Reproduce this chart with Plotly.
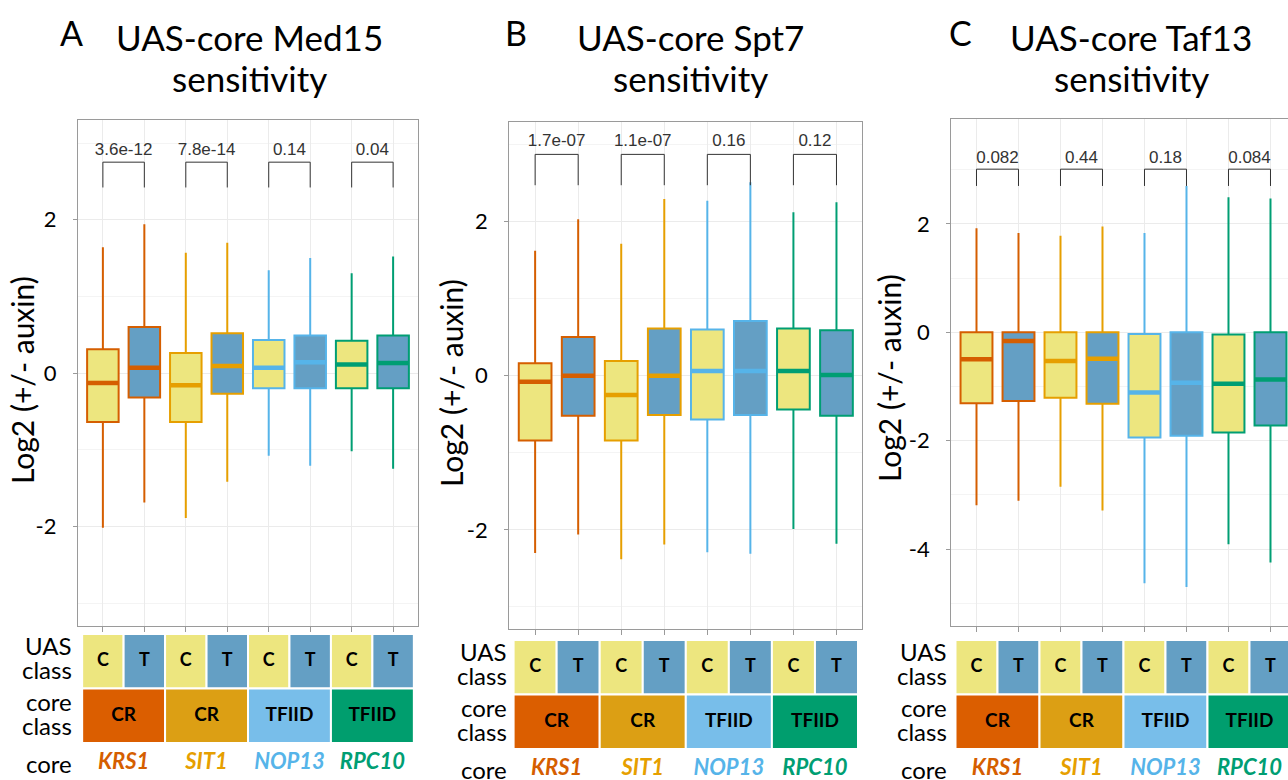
import plotly.graph_objects as go

W, H = 1288, 780

# ---------------- data ----------------
cores = ["KRS1", "SIT1", "NOP13", "RPC10"]
core_classes = ["CR", "CR", "TFIID", "TFIID"]
uas_classes = ["C", "T", "C", "T", "C", "T", "C", "T"]

med15_upper = [1.64, 1.94, 1.57, 1.70, 1.34, 1.50, 1.30, 1.52]
med15_q3 = [0.31, 0.60, 0.26, 0.52, 0.43, 0.49, 0.42, 0.49]
med15_median = [-0.13, 0.07, -0.16, 0.09, 0.07, 0.14, 0.11, 0.13]
med15_q1 = [-0.64, -0.32, -0.64, -0.27, -0.20, -0.20, -0.20, -0.20]
med15_lower = [-2.02, -1.69, -1.89, -1.42, -1.08, -1.21, -1.02, -1.25]
med15_p = ["3.6e-12", "7.8e-14", "0.14", "0.04"]

spt7_upper = [1.62, 2.03, 1.71, 2.29, 2.27, 2.51, 2.12, 2.25]
spt7_q3 = [0.16, 0.50, 0.19, 0.61, 0.60, 0.71, 0.61, 0.59]
spt7_median = [-0.08, 0.00, -0.25, 0.00, 0.06, 0.06, 0.06, 0.01]
spt7_q1 = [-0.84, -0.52, -0.84, -0.51, -0.57, -0.51, -0.44, -0.52]
spt7_lower = [-2.30, -2.06, -2.38, -2.19, -2.29, -2.31, -1.99, -2.18]
spt7_p = ["1.7e-07", "1.1e-07", "0.16", "0.12"]

taf13_upper = [1.92, 1.83, 1.78, 1.95, 1.83, 2.70, 2.49, 2.47]
taf13_q3 = [0.00, 0.00, 0.00, 0.00, -0.03, 0.00, -0.04, 0.00]
taf13_median = [-0.50, -0.16, -0.53, -0.49, -1.11, -0.93, -0.95, -0.87]
taf13_q1 = [-1.31, -1.27, -1.21, -1.32, -1.94, -1.91, -1.85, -1.72]
taf13_lower = [-3.19, -3.11, -2.85, -3.29, -4.63, -4.70, -3.91, -4.25]
taf13_p = ["0.082", "0.44", "0.18", "0.084"]

med15_ticks = [-2, 0, 2]
spt7_ticks = [-2, 0, 2]
taf13_ticks = [-4, -2, 0, 2]

# ---------------- styles ----------------
core_line_colors = ["#D55E00", "#E69F00", "#56B4E9", "#009E73"]
core_tile_colors = ["#DB5E00", "#DC9F14", "#78BEEA", "#009E6E"]
uas_fill = {"C": "#EDE67F", "T": "#649FC4"}
FONT = "Lato"
GRID = "#EBEBEB"
MINOR = "#F4F4F4"
BORDER = "#9A9A9A"


def xd(px):
    return px / W


def yd(px):
    return 1 - px / H


panels = [
    dict(letter="A", title="UAS-core Med15", up=med15_upper, q3=med15_q3, med=med15_median,
         q1=med15_q1, lo=med15_lower, p=med15_p,
         px=(78, 418), py=(120, 626), ty=(634, 743), yr=[-3.3, 3.3], xr=[0.4, 8.6],
         ticks=med15_ticks, br=(2.90, 2.75, 2.42), lab_x=74, ytitle_x=22, ytitle_y=380,
         letter_x=71.5, title_x=249, mirror_y=True),
    dict(letter="B", title="UAS-core Spt7", up=spt7_upper, q3=spt7_q3, med=spt7_median,
         q1=spt7_q1, lo=spt7_lower, p=spt7_p,
         px=(509.3, 862.3), py=(122, 629.3), ty=(640, 749), yr=[-3.29, 3.29], xr=[0.4, 8.6],
         ticks=spt7_ticks, br=(3.03, 2.87, 2.47), lab_x=509, ytitle_x=451, ytitle_y=383,
         letter_x=516, title_x=690, mirror_y=True),
    dict(letter="C", title="UAS-core Taf13", up=taf13_upper, q3=taf13_q3, med=taf13_median,
         q1=taf13_q1, lo=taf13_lower, p=taf13_p,
         px=(951.3, 1288), py=(119.3, 626), ty=(640, 749), yr=[-5.42, 3.93], xr=[0.4, 8.417],
         ticks=taf13_ticks, br=(3.21, 3.01, 2.70), lab_x=949, ytitle_x=889, ytitle_y=378,
         letter_x=960, title_x=1131, mirror_y=False),
]

fig = go.Figure()
annotations = []
shapes = []
positions = list(range(1, len(uas_classes) + 1))
box_w = 0.76
TABLE_LOW = -0.55  # table axis extends below the tiles for the core-name row

for k, P in enumerate(panels):
    n = k + 1
    xa = "x" if n == 1 else f"x{n}"
    ya = "y" if n == 1 else f"y{n}"
    xt = f"x{n + 3}"
    yt = f"y{n + 3}"

    # boxes
    for i, pos in enumerate(positions):
        core_i = i // 2
        col = core_line_colors[core_i]
        fig.add_trace(go.Box(
            x=[pos], q1=[P["q1"][i]], median=[P["med"][i]], q3=[P["q3"][i]],
            lowerfence=[P["lo"][i]], upperfence=[P["up"][i]],
            width=box_w, whiskerwidth=0, fillcolor=uas_fill[uas_classes[i]],
            line=dict(color=col, width=2), boxpoints=False,
            xaxis=xa, yaxis=ya, showlegend=False, hoverinfo="skip"))
        # thicker median line (ggplot style)
        fig.add_trace(go.Scatter(
            x=[pos - box_w / 2, pos + box_w / 2], y=[P["med"][i], P["med"][i]],
            mode="lines", line=dict(color=col, width=4.5),
            xaxis=xa, yaxis=ya, showlegend=False, hoverinfo="skip"))

    # p-value brackets
    text_y, top_y, leg_y = P["br"]
    bx, by = [], []
    for j in range(len(cores)):
        a, b = positions[2 * j], positions[2 * j + 1]
        bx += [a, a, b, b, None]
        by += [leg_y, top_y, top_y, leg_y, None]
    fig.add_trace(go.Scatter(x=bx, y=by, mode="lines", line=dict(color="#333333", width=1),
                             xaxis=xa, yaxis=ya, showlegend=False, hoverinfo="skip"))
    fig.add_trace(go.Scatter(
        x=[(positions[2 * j] + positions[2 * j + 1]) / 2 for j in range(len(cores))],
        y=[text_y] * len(cores), text=P["p"], mode="text",
        textfont=dict(family="Liberation Sans", size=17, color="#333333"),
        xaxis=xa, yaxis=ya, showlegend=False, hoverinfo="skip"))

    # table: UAS class row and core class row
    for i, pos in enumerate(positions):
        shapes.append(dict(type="rect", xref=xt, yref=yt, x0=pos - 0.5, x1=pos + 0.5, y0=1, y1=2,
                           fillcolor=uas_fill[uas_classes[i]], line=dict(color="white", width=2),
                           layer="below"))
    for j in range(len(cores)):
        a, b = positions[2 * j], positions[2 * j + 1]
        shapes.append(dict(type="rect", xref=xt, yref=yt, x0=a - 0.5, x1=b + 0.5, y0=0, y1=1,
                           fillcolor=core_tile_colors[j], line=dict(color="white", width=2),
                           layer="below"))
    fig.add_trace(go.Scatter(x=positions, y=[1.5] * len(positions), text=uas_classes, mode="text",
                             textfont=dict(family=FONT, size=18, color="black", weight="bold"),
                             xaxis=xt, yaxis=yt, showlegend=False, hoverinfo="skip"))
    centers = [(positions[2 * j] + positions[2 * j + 1]) / 2 for j in range(len(cores))]
    fig.add_trace(go.Scatter(x=centers, y=[0.5] * len(cores), text=core_classes, mode="text",
                             textfont=dict(family=FONT, size=19, color="black", weight="bold"),
                             xaxis=xt, yaxis=yt, showlegend=False, hoverinfo="skip"))
    fig.add_trace(go.Scatter(x=centers, y=[-0.37] * len(cores), text=cores, mode="text",
                             cliponaxis=False,
                             textfont=dict(family=FONT, size=22, color=core_line_colors,
                                           weight="bold", style="italic"),
                             xaxis=xt, yaxis=yt, showlegend=False, hoverinfo="skip"))

    # row labels
    for txt, yv in [("UAS", 1.78), ("class", 1.35), ("core", 0.76), ("class", 0.33), ("core", -0.37)]:
        annotations.append(dict(xref="paper", yref=yt, x=xd(P["lab_x"]), y=yv, text=txt,
                                xanchor="right", yanchor="middle", showarrow=False,
                                font=dict(family=FONT, size=24, color="black")))

    # titles
    annotations.append(dict(xref="paper", yref="paper", x=xd(P["letter_x"]), y=yd(32.5),
                            text=P["letter"], showarrow=False, xanchor="center", yanchor="middle",
                            font=dict(family=FONT, size=34, color="black")))
    annotations.append(dict(xref="paper", yref="paper", x=xd(P["title_x"]), y=yd(37),
                            text=P["title"], showarrow=False, xanchor="center", yanchor="middle",
                            font=dict(family=FONT, size=35, color="black")))
    annotations.append(dict(xref="paper", yref="paper", x=xd(P["title_x"]), y=yd(78),
                            text="sensitivity", showarrow=False, xanchor="center", yanchor="middle",
                            font=dict(family=FONT, size=35, color="black")))
    annotations.append(dict(xref="paper", yref="paper", x=xd(P["ytitle_x"]), y=yd(P["ytitle_y"]),
                            text="Log2 (+/- auxin)", textangle=-90, showarrow=False,
                            xanchor="center", yanchor="middle",
                            font=dict(family=FONT, size=30, color="black")))

    xdom = [xd(P["px"][0]), min(1.0, xd(P["px"][1]))]
    t_top, t_bot = P["ty"]
    unit = (t_bot - t_top) / 2.0
    t_low_px = t_bot - TABLE_LOW * unit
    fig.update_layout({
        ("xaxis" if n == 1 else f"xaxis{n}"): dict(
            domain=xdom, range=P["xr"], anchor=ya, tickvals=positions, showticklabels=False,
            ticks="outside", ticklen=5, tickcolor=BORDER, showgrid=True, gridcolor=GRID,
            zeroline=False, showline=True, linecolor=BORDER, linewidth=1.2, mirror=True,
            fixedrange=True),
        ("yaxis" if n == 1 else f"yaxis{n}"): dict(
            domain=[yd(P["py"][1]), yd(P["py"][0])], range=P["yr"], anchor=xa,
            tickvals=P["ticks"], ticktext=[str(t) for t in P["ticks"]],
            ticks="outside", ticklen=4, tickcolor=BORDER,
            tickfont=dict(family=FONT, size=22, color="black"), ticklabelstandoff=12,
            showgrid=True, gridcolor=GRID, zeroline=False, showline=True, linecolor=BORDER,
            linewidth=1.2, mirror=P["mirror_y"],
            minor=dict(dtick=1, tick0=0, showgrid=True, gridcolor=MINOR),
            fixedrange=True),
        f"xaxis{n + 3}": dict(domain=xdom, range=P["xr"], anchor=yt, visible=False, fixedrange=True),
        f"yaxis{n + 3}": dict(domain=[max(0.0, yd(t_low_px)), yd(t_top)], range=[TABLE_LOW, 2],
                              anchor=xt, visible=False, fixedrange=True),
    })

fig.update_layout(
    width=W, height=H, margin=dict(l=0, r=0, t=0, b=0),
    paper_bgcolor="white", plot_bgcolor="white",
    showlegend=False, annotations=annotations, shapes=shapes,
    font=dict(family=FONT),
)

fig.write_html("out.html", config={"displayModeBar": False})
